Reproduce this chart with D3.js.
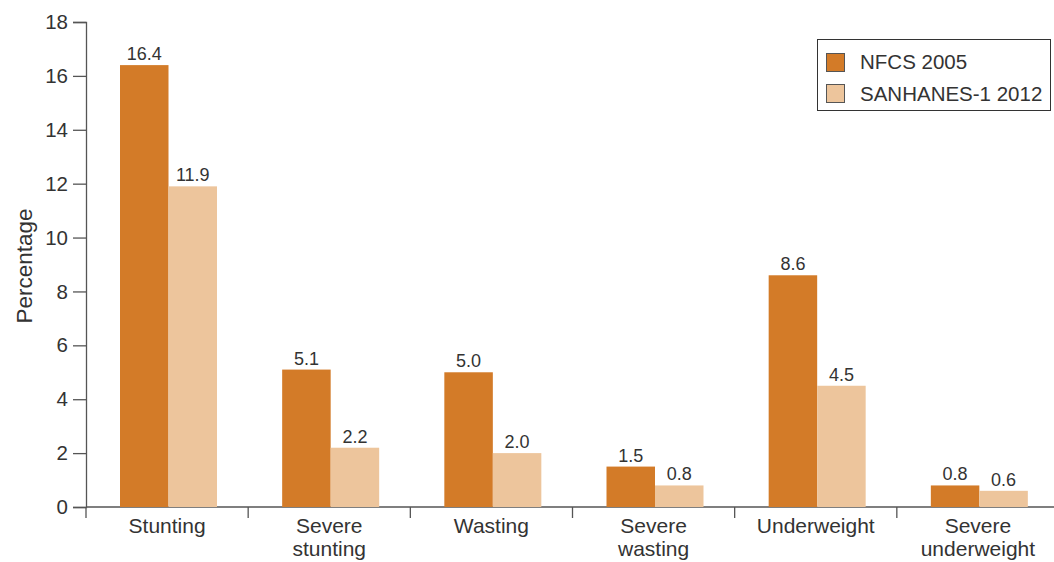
<!DOCTYPE html>
<html>
<head>
<meta charset="utf-8">
<script src="https://cdn.jsdelivr.net/npm/d3@7"></script>
<style>
  html, body { margin: 0; padding: 0; background: #fff; }
  svg text { font-family: "Liberation Sans", Arial, sans-serif; fill: #333; }
</style>
</head>
<body>
<svg id="chart" width="1054" height="562"></svg>
<script>
// Malnutrition indicators among children, two national surveys
const categories = [
  ["Stunting"],
  ["Severe", "stunting"],
  ["Wasting"],
  ["Severe", "wasting"],
  ["Underweight"],
  ["Severe", "underweight"]
];
const seriesNames = ["NFCS 2005", "SANHANES-1 2012"];
const nfcs2005 = [16.4, 5.1, 5.0, 1.5, 8.6, 0.8];
const sanhanes2012 = [11.9, 2.2, 2.0, 0.8, 4.5, 0.6];
const yTicks = [0, 2, 4, 6, 8, 10, 12, 14, 16, 18];
const colors = ["#D37B28", "#EDC59C"];

const svg = d3.select("#chart");
const plot = { left: 86, right: 1059, top: 22, bottom: 507 };

const y = d3.scaleLinear().domain([0, 18]).range([plot.bottom, plot.top]);
const x = d3.scaleBand().domain(d3.range(categories.length)).range([plot.left, plot.right]).padding(0);
const xSub = d3.scaleBand().domain(seriesNames).range([34, 131]).padding(0);

// y axis
const yAxis = svg.append("g").attr("transform", `translate(${plot.left},0)`)
  .call(d3.axisLeft(y).tickValues(yTicks).tickSize(13).tickPadding(5).tickFormat(d3.format("d")));
yAxis.select(".domain").attr("stroke", "#555").attr("stroke-width", 1.3);
yAxis.selectAll(".tick line").attr("stroke", "#555").attr("stroke-width", 1.3);
yAxis.selectAll(".tick text").attr("font-size", 20.5).style("fill", "#333")
  .attr("font-family", "Liberation Sans, Arial, sans-serif");

// x baseline and separators between categories
const boundaries = d3.range(categories.length + 1).map(i => plot.left + i * x.bandwidth());
svg.append("line").attr("x1", plot.left).attr("x2", plot.right).attr("y1", y(0)).attr("y2", y(0))
  .attr("stroke", "#555").attr("stroke-width", 1.3);
svg.selectAll(".sep").data(boundaries.slice(0, -1)).join("line")
  .attr("x1", d => d).attr("x2", d => d).attr("y1", y(0)).attr("y2", y(0) + 11)
  .attr("stroke", "#555").attr("stroke-width", 1.3);

// bars
const rows = categories.map((c, i) => ({ i, values: [nfcs2005[i], sanhanes2012[i]] }));
const groups = svg.selectAll(".grp").data(rows).join("g")
  .attr("transform", d => `translate(${x(d.i)},0)`);

groups.selectAll("rect").data(d => d.values.map((v, k) => ({ v, k }))).join("rect")
  .attr("x", d => xSub(seriesNames[d.k]))
  .attr("width", xSub.bandwidth())
  .attr("y", d => y(d.v))
  .attr("height", d => y(0) - y(d.v))
  .attr("fill", d => colors[d.k]);

groups.selectAll("text.val").data(d => d.values.map((v, k) => ({ v, k }))).join("text")
  .attr("class", "val")
  .attr("x", d => xSub(seriesNames[d.k]) + xSub.bandwidth() / 2)
  .attr("y", d => y(d.v) - 5)
  .attr("text-anchor", "middle")
  .attr("font-size", 18)
  .text(d => d3.format(".1f")(d.v));

// category labels
groups.append("text")
  .attr("text-anchor", "middle")
  .attr("font-size", 21)
  .selectAll("tspan").data(d => categories[d.i]).join("tspan")
  .attr("x", x.bandwidth() / 2)
  .attr("y", (d, j) => 533 + j * 23)
  .text(d => d);

// y axis title
svg.append("text")
  .attr("transform", "translate(32,266) rotate(-90)")
  .attr("text-anchor", "middle")
  .attr("font-size", 22.5)
  .text("Percentage");

// legend
const lg = svg.append("g");
lg.append("rect").attr("x", 817.5).attr("y", 39.5).attr("width", 233).attr("height", 71)
  .attr("fill", "#fff").attr("stroke", "#333").attr("stroke-width", 1);
seriesNames.forEach((name, k) => {
  lg.append("rect").attr("x", 826.5).attr("y", 53.5 + k * 31).attr("width", 18).attr("height", 18)
    .attr("fill", colors[k]).attr("stroke", "#555").attr("stroke-width", 1);
  lg.append("text").attr("x", 860).attr("y", 69 + k * 32).attr("font-size", 20.5).text(name);
});
</script>
</body>
</html>
